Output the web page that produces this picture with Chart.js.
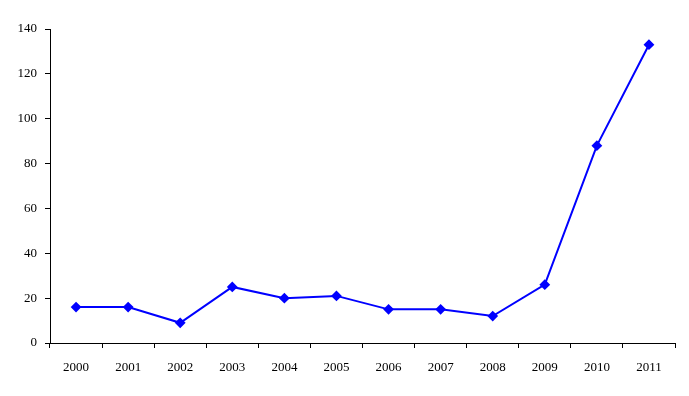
<!DOCTYPE html>
<html>
<head>
<meta charset="utf-8">
<script src="https://cdn.jsdelivr.net/npm/chart.js@4/dist/chart.umd.min.js"></script>
<style>
  html, body { margin: 0; padding: 0; background: #fff; }
  #wrap { width: 689px; height: 396px; }
</style>
</head>
<body>
<div id="wrap"><canvas id="chart"></canvas></div>
<script>
const years = ['2000', '2001', '2002', '2003', '2004', '2005', '2006', '2007', '2008', '2009', '2010', '2011'];
const counts = [16, 16, 9, 25, 20, 21, 15, 15, 12, 26, 88, 133];
const yTicks = [0, 20, 40, 60, 80, 100, 120, 140];

const font = { family: '"Liberation Serif", "Times New Roman", serif', size: 13 };

new Chart(document.getElementById('chart'), {
  type: 'line',
  data: {
    labels: years,
    datasets: [{
      data: counts,
      borderColor: '#0000ff',
      backgroundColor: '#0000ff',
      borderWidth: 2,
      pointStyle: 'rectRot',
      pointRadius: 4,
      pointHoverRadius: 4,
      tension: 0
    }]
  },
  options: {
    responsive: true,
    maintainAspectRatio: false,
    animation: false,
    layout: { padding: { top: 29, right: 14, left: 0, bottom: 0 } },
    plugins: { legend: { display: false }, tooltip: { enabled: false } },
    scales: {
      x: {
        type: 'category',
        offset: true,
        grid: { offset: true, drawOnChartArea: false, drawTicks: true, tickLength: 5, color: '#000', lineWidth: 1 },
        border: { color: '#000', width: 1 },
        ticks: { color: '#000', font: font, padding: 12, maxRotation: 0, autoSkip: false },
        afterFit: s => { s.height = 53; }
      },
      y: {
        min: 0,
        max: 140,
        afterBuildTicks: s => { s.ticks = yTicks.map(v => ({ value: v })); },
        grid: { drawOnChartArea: false, drawTicks: true, tickLength: 5, color: '#000', lineWidth: 1 },
        border: { color: '#000', width: 1 },
        ticks: { color: '#000', font: font, padding: 8 },
        afterFit: s => { s.width = 50; }
      }
    }
  }
});
</script>
</body>
</html>
